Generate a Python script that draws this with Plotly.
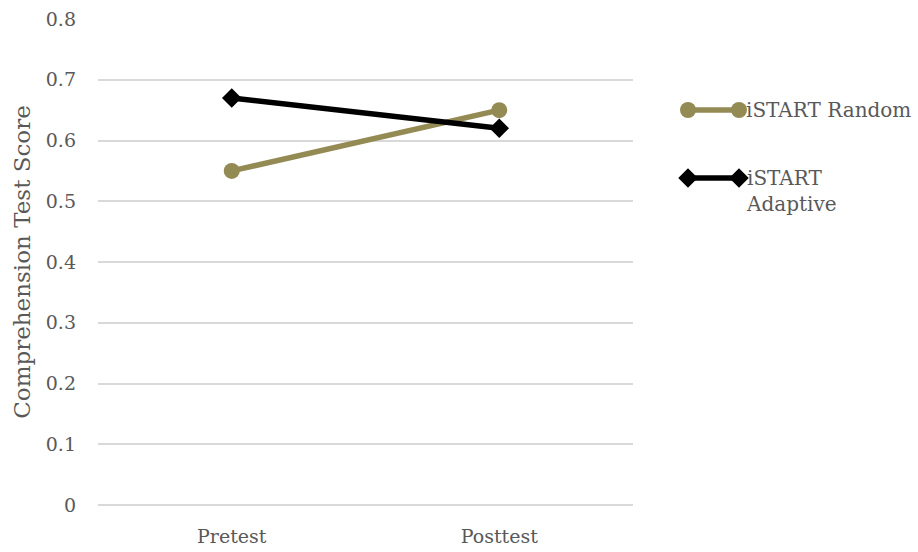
import plotly.graph_objects as go

# Comprehension test scores by session
categories = ["Pretest", "Posttest"]
random_scores = [0.55, 0.65]
adaptive_scores = [0.67, 0.62]
y_ticks = [0, 0.1, 0.2, 0.3, 0.4, 0.5, 0.6, 0.7, 0.8]
y_tick_text = ["0", "0.1", "0.2", "0.3", "0.4", "0.5", "0.6", "0.7", "0.8"]

OLIVE = "#948A54"
BLACK = "#000000"
TEXT = "#595959"
FONT = "DejaVu Serif, Liberation Serif, serif"
FS = 19

W, H = 918, 552

fig = go.Figure()

fig.add_trace(go.Scatter(
    x=categories, y=random_scores, mode="lines+markers",
    line=dict(color=OLIVE, width=5.5),
    marker=dict(symbol="circle", size=16, color=OLIVE),
    showlegend=False, xaxis="x", yaxis="y",
))
fig.add_trace(go.Scatter(
    x=categories, y=adaptive_scores, mode="lines+markers",
    line=dict(color=BLACK, width=5.5),
    marker=dict(symbol="diamond", size=15, color=BLACK),
    showlegend=False, xaxis="x", yaxis="y",
))

# Legend keys drawn on a pixel-scaled overlay axis
legend_items = [
    ("iSTART Random", OLIVE, "circle", 16, 110),
    ("iSTART<br>Adaptive", BLACK, "diamond", 15, 178),
]
for label, color, symbol, size, ypix in legend_items:
    fig.add_trace(go.Scatter(
        x=[688, 739], y=[ypix, ypix], mode="lines+markers",
        line=dict(color=color, width=5.5),
        marker=dict(symbol=symbol, size=size, color=color),
        showlegend=False, xaxis="x2", yaxis="y2", hoverinfo="skip",
    ))
    multi = "<br>" in label
    fig.add_annotation(
        x=744, y=ypix, xref="x2", yref="y2", text=label,
        showarrow=False, xanchor="left", yanchor="top" if multi else "middle",
        yshift=14 if multi else 0,
        align="left", font=dict(family=FONT, size=20, color=TEXT),
    )

fig.update_layout(
    width=W, height=H,
    margin=dict(l=0, r=0, t=0, b=0),
    paper_bgcolor="white", plot_bgcolor="rgba(0,0,0,0)",
    font=dict(family=FONT, size=FS, color=TEXT),
    xaxis=dict(
        domain=[98 / W, 633 / W], range=[-0.5, 1.5], type="category",
        showgrid=False, zeroline=False, showline=False, ticks="",
        tickfont=dict(family=FONT, size=FS, color=TEXT), anchor="y",
        automargin=False, ticklabelstandoff=18,
    ),
    yaxis=dict(
        domain=[47 / H, 533 / H], range=[0, 0.8], anchor="x",
        tickvals=y_ticks, ticktext=y_tick_text,
        showgrid=True, gridcolor="#D9D9D9", gridwidth=1.5,
        zeroline=True, zerolinecolor="#D9D9D9", zerolinewidth=1.5,
        showline=False, ticks="", ticklabelstandoff=21,
        automargin=False,
        tickfont=dict(family=FONT, size=FS, color=TEXT),
        title=dict(text="Comprehension Test Score", standoff=8,
                   font=dict(family=FONT, size=23, color=TEXT)),
    ),
    xaxis2=dict(domain=[0, 1], range=[0, W], visible=False, fixedrange=True, anchor="y2"),
    yaxis2=dict(domain=[0, 1], range=[H, 0], visible=False, fixedrange=True, anchor="x2"),
)

fig.write_html("out.html")
